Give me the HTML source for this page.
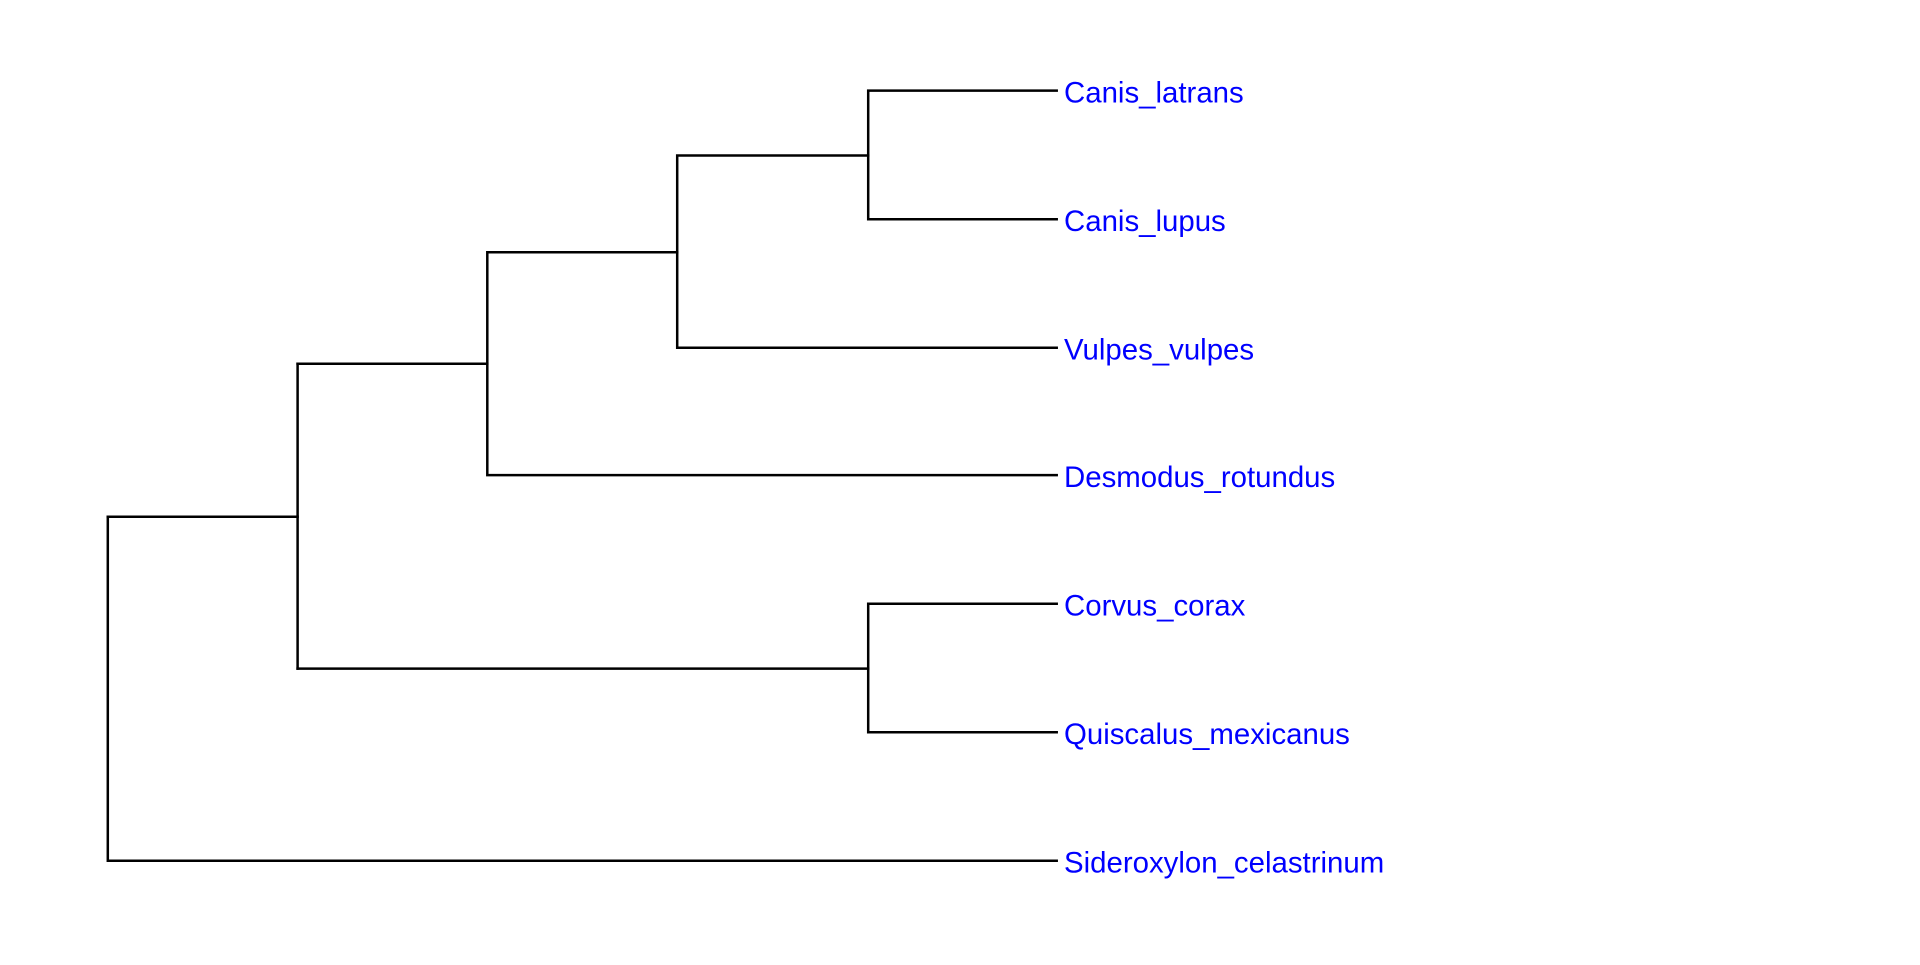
<!DOCTYPE html>
<html><head><style>body{margin:0;background:#fff}</style></head><body>
<svg width="1920" height="960" xmlns="http://www.w3.org/2000/svg">
<g stroke="#000" stroke-width="2.5" fill="none" stroke-linecap="square">
<path d="M107.8 516.7V860.8H1056.7"/>
<path d="M107.8 516.7H297.6"/>
<path d="M297.6 363.7V668.6"/>
<path d="M297.6 363.7H487.3V252.2H677.2V155.5H868.2V90.6H1056.7"/>
<path d="M868.2 155.5V219.2H1056.7"/>
<path d="M677.2 252.2V347.8H1056.7"/>
<path d="M487.3 363.7V475.1H1056.7"/>
<path d="M297.6 668.6H868.2V603.7H1056.7"/>
<path d="M868.2 668.6V732.3H1056.7"/>
</g>
<g fill="#0000ff" font-family="Liberation Sans, sans-serif" font-size="29.4">
<text x="1064" y="102.5">Canis_latrans</text>
<text x="1064" y="231">Canis_lupus</text>
<text x="1064" y="359.5">Vulpes_vulpes</text>
<text x="1064" y="487">Desmodus_rotundus</text>
<text x="1064" y="615.5">Corvus_corax</text>
<text x="1064" y="744">Quiscalus_mexicanus</text>
<text x="1064" y="872.5">Sideroxylon_celastrinum</text>
</g>
</svg>
</body></html>
